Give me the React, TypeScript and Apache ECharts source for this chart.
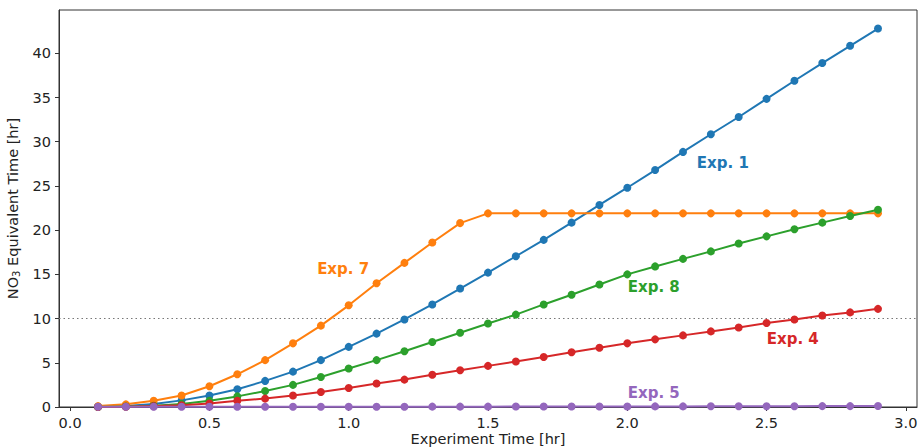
import React, { useEffect, useRef } from "react";
import * as echarts from "echarts";

const time = [0.1, 0.2, 0.3, 0.4, 0.5, 0.6, 0.7, 0.8, 0.9, 1.0, 1.1, 1.2, 1.3, 1.4, 1.5, 1.6, 1.7, 1.8, 1.9, 2.0, 2.1, 2.2, 2.3, 2.4, 2.5, 2.6, 2.7, 2.8, 2.9];
const exp1 = [0.02, 0.1, 0.35, 0.75, 1.3, 2.0, 2.95, 4.0, 5.3, 6.8, 8.3, 9.9, 11.6, 13.4, 15.2, 17.05, 18.9, 20.85, 22.85, 24.8, 26.8, 28.85, 30.85, 32.8, 34.85, 36.9, 38.9, 40.85, 42.8];
const exp7 = [0.1, 0.3, 0.7, 1.3, 2.35, 3.7, 5.3, 7.2, 9.2, 11.5, 14.0, 16.3, 18.6, 20.8, 21.9, 21.9, 21.9, 21.9, 21.9, 21.9, 21.9, 21.9, 21.9, 21.9, 21.9, 21.9, 21.9, 21.9, 21.9];
const exp8 = [0.0, 0.05, 0.15, 0.35, 0.7, 1.2, 1.8, 2.5, 3.4, 4.35, 5.3, 6.3, 7.35, 8.4, 9.45, 10.45, 11.6, 12.7, 13.85, 15.0, 15.9, 16.75, 17.6, 18.5, 19.3, 20.1, 20.85, 21.6, 22.3];
const exp4 = [0.0, 0.03, 0.1, 0.2, 0.4, 0.7, 0.95, 1.3, 1.7, 2.15, 2.65, 3.1, 3.65, 4.15, 4.65, 5.15, 5.65, 6.2, 6.7, 7.2, 7.65, 8.1, 8.55, 9.0, 9.5, 9.9, 10.35, 10.7, 11.1];
const exp5 = [0.02, 0.02, 0.02, 0.02, 0.02, 0.02, 0.02, 0.02, 0.03, 0.03, 0.03, 0.03, 0.04, 0.04, 0.04, 0.05, 0.05, 0.05, 0.06, 0.06, 0.07, 0.07, 0.08, 0.08, 0.09, 0.09, 0.1, 0.1, 0.11];

const seriesNames = ["Exp. 1", "Exp. 7", "Exp. 8", "Exp. 4", "Exp. 5"];
const seriesColors = ["#1f77b4", "#ff7f0e", "#2ca02c", "#d62728", "#9467bd"];
const labelX = [2.343, 0.98, 2.095, 2.594, 2.095];
const labelY = [27.6, 15.6, 13.6, 7.67, 1.6];

const yTicks = [0, 5, 10, 15, 20, 25, 30, 35, 40];
const xTicks = [0, 0.5, 1.0, 1.5, 2.0, 2.5, 3.0];
const refLine = 10;

const FONT = "DejaVu Sans";

export default function App() {
  const ref = useRef<HTMLDivElement>(null);
  useEffect(() => {
    if (!ref.current) return;
    const chart = echarts.init(ref.current, null, { renderer: "svg" });
    const allData = [exp1, exp7, exp8, exp4, exp5];
    const series: any[] = allData.map((vals, i) => ({
      type: "line",
      name: seriesNames[i],
      data: time.map((t, j) => [t, vals[j]]),
      symbol: "circle",
      symbolSize: 8,
      showSymbol: true,
      color: seriesColors[i],
      lineStyle: { width: 2, color: seriesColors[i] },
      itemStyle: { color: seriesColors[i] },
      z: 3 + i,
      markPoint: {
        symbol: "rect",
        symbolSize: 1,
        itemStyle: { color: "rgba(0,0,0,0)" },
        label: {
          show: true,
          position: "inside",
          formatter: seriesNames[i],
          color: seriesColors[i],
          fontFamily: FONT,
          fontWeight: "bold",
          fontSize: 15,
        },
        data: [{ coord: [labelX[i], labelY[i]] }],
      },
      ...(i === 0
        ? {
            markLine: {
              silent: true,
              symbol: "none",
              label: { show: false },
              lineStyle: { type: [1.5, 3], color: "#777", width: 1.2 },
              data: [{ yAxis: refLine }],
              z: 1,
            },
          }
        : {}),
    }));

    chart.setOption({
      animation: false,
      grid: {
        left: 59,
        right: 2,
        top: 10,
        bottom: 40,
        containLabel: false,
        outerBoundsMode: "none",
        show: true,
        borderColor: "#333",
        borderWidth: 1,
        backgroundColor: "transparent",
      },
      xAxis: {
        type: "value",
        min: -0.04,
        max: 3.04,
        name: "Experiment Time [hr]",
        nameLocation: "middle",
        nameGap: 24,
        nameMoveOverlap: false,
        nameTextStyle: { fontFamily: FONT, fontSize: 14.5, lineHeight: 15, color: "#222" },
        axisLine: { show: true, onZero: false, lineStyle: { color: "#333" } },
        axisTick: { show: true, length: 4, customValues: xTicks, lineStyle: { color: "#333" } },
        axisLabel: {
          customValues: xTicks,
          formatter: (v: number) => v.toFixed(1),
          fontFamily: FONT,
          fontSize: 14.5,
          lineHeight: 15,
          color: "#222",
          margin: 8,
        },
        splitLine: { show: false },
      },
      yAxis: {
        type: "value",
        min: 0,
        max: 44.9,
        name: "{a|NO}{s|3}{a| Equivalent Time [hr]}",
        nameLocation: "middle",
        nameGap: 38,
        nameMoveOverlap: false,
        nameRotate: 90,
        nameTextStyle: {
          fontFamily: FONT,
          fontSize: 14.5,
          color: "#222",
          rich: {
            a: { fontFamily: FONT, fontSize: 14.5, color: "#222" },
            s: { fontFamily: FONT, fontSize: 10, color: "#222", verticalAlign: "bottom", padding: [6, 0, 0, 0] },
          },
        },
        axisLine: { show: true, onZero: false, lineStyle: { color: "#333" } },
        axisTick: { show: true, length: 4, customValues: yTicks, lineStyle: { color: "#333" } },
        axisLabel: {
          customValues: yTicks,
          fontFamily: FONT,
          fontSize: 14.5,
          color: "#222",
          margin: 8,
        },
        splitLine: { show: false },
      },
      series,
    });
    return () => chart.dispose();
  }, []);
  return <div ref={ref} style={{ position: "absolute", left: 0, top: 0, width: 919, height: 447 }} />;
}
